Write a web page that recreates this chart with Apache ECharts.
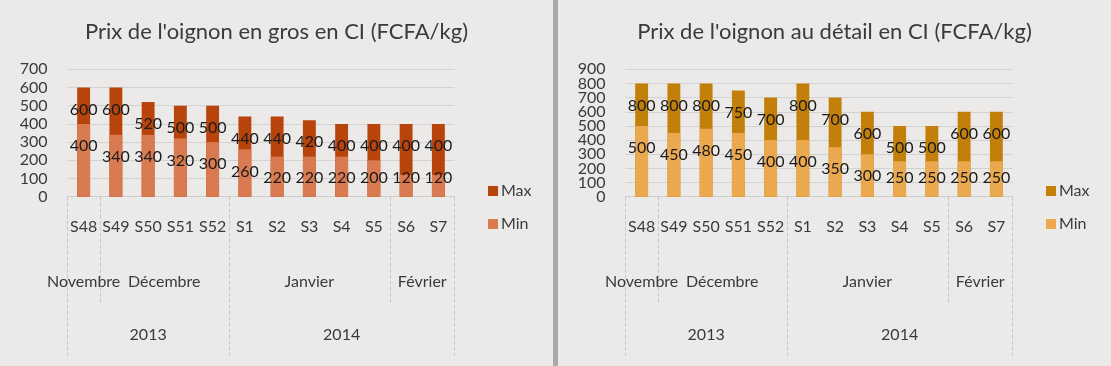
<!DOCTYPE html>
<html><head><meta charset="utf-8">
<script src="https://cdn.jsdelivr.net/npm/echarts@6/dist/echarts.min.js"></script>
<style>
html,body{margin:0;padding:0;background:#ebeae8;}
#wrap{display:flex;width:1111px;height:366px;}
.panel{width:553px;height:366px;}
.sep{width:5px;height:366px;background:#aaa9a7;}
</style></head><body>
<div id="wrap"><div id="c1" class="panel"></div><div class="sep"></div><div id="c2" class="panel"></div></div>
<script>
const weeks = ['S48','S49','S50','S51','S52','S1','S2','S3','S4','S5','S6','S7'];
const monthNames = ['Novembre','Décembre','Janvier','Février'];
const monthSpans = [1,4,5,2];
const yearNames = ['2013','2014'];
const yearSpans = [5,7];
const grosMax = [600,600,520,500,500,440,440,420,400,400,400,400];
const grosMin = [400,340,340,320,300,260,220,220,220,200,120,120];
const detailMax = [800,800,800,750,700,800,700,600,500,500,600,600];
const detailMin = [500,450,480,450,400,400,350,300,250,250,250,250];
const grosTicks = [0,100,200,300,400,500,600,700];
const detailTicks = [0,100,200,300,400,500,600,700,800,900];

const FONT = 'Lato';
const TXT = '#3a3a3a';

function groups(names, spans){
  let s = 0;
  return names.map((n,i)=>{ const g={name:n,start:s-0.5,end:s+spans[i]-0.5,center:s+(spans[i]-1)/2}; s+=spans[i]; return g; });
}
const monthGroups = groups(monthNames, monthSpans);
const yearGroups = groups(yearNames, yearSpans);
const yearBounds = [yearGroups[0].start].concat(yearGroups.map(g=>g.end));
const monthBounds = monthGroups.slice(0,-1).map(g=>g.end).filter(b=>yearBounds.indexOf(b)<0);

function labelFor(gs){ return v => { const g = gs.find(g=>Math.abs(g.center-v)<1e-6); return g?g.name:''; }; }

function layoutLabel(p){
  const r = p.rect;
  return {x: r.x + r.width/2, y: Math.min(r.y + 22, r.y + r.height - 19), align:'center', verticalAlign:'middle'};
}

function build(id, title, maxArr, minArr, ticks, cMax, cMin){
  const chart = echarts.init(document.getElementById(id), null, {renderer:'canvas'});
  const n = weeks.length;
  const yMin = ticks[0], yMax = ticks[ticks.length-1], yInt = ticks[1]-ticks[0];
  const labelStyle = {show:true, fontSize:16, color:'#1a1a1a', fontFamily:FONT};
  const yLab = {fontSize:16, color:TXT, margin:20, fontFamily:FONT};
  chart.setOption({
    animation:false,
    backgroundColor:'#ebeae8',
    textStyle:{fontFamily:FONT},
    title:{text:title, left:'center', top:16, textStyle:{fontSize:22, fontWeight:'normal', color:TXT, fontFamily:FONT}},
    legend:{data:['Max','Min'], orient:'vertical', left:488, top:183, padding:0, itemWidth:10, itemHeight:10, itemGap:17, icon:'rect',
      textStyle:{fontSize:16, color:TXT, fontFamily:FONT, padding:[0,0,0,-2]}},
    grid:{left:67.5, right:98.5, top:69.3, bottom:169.3, containLabel:false},
    yAxis:[
      {type:'value', position:'left', min:yMin, max:yMax, interval:yInt,
        axisLine:{show:false}, axisTick:{show:false},
        axisLabel:Object.assign({showMinLabel:false, showMaxLabel:false}, yLab),
        splitLine:{lineStyle:{color:'#d2d2d2', width:1}}},
      {type:'value', position:'left', offset:0, min:yMin, max:yMax, interval:yInt,
        axisLine:{show:false}, axisTick:{show:false}, splitLine:{show:false},
        axisLabel:Object.assign({customValues:[yMin, yMax]}, yLab)}
    ],
    xAxis:[
      {type:'category', data:weeks, position:'bottom',
        axisLine:{lineStyle:{color:'#cdcdcd'}}, axisTick:{show:false},
        axisLabel:{fontSize:16, color:TXT, margin:22, fontFamily:FONT, interval:0}},
      {type:'value', min:-0.5, max:n-0.5, position:'bottom', axisLine:{show:false}, splitLine:{show:false},
        axisTick:{show:true, customValues:monthBounds, length:106, lineStyle:{color:'#c8c8c8', type:'dashed'}},
        axisLabel:{customValues:monthGroups.map(g=>g.center), formatter:labelFor(monthGroups), fontSize:16, color:TXT, margin:77, fontFamily:FONT}},
      {type:'value', min:-0.5, max:n-0.5, position:'bottom', axisLine:{show:false}, splitLine:{show:false},
        axisTick:{show:true, customValues:yearBounds, length:159, lineStyle:{color:'#c8c8c8', type:'dashed'}},
        axisLabel:{customValues:yearGroups.map(g=>g.center), formatter:labelFor(yearGroups), fontSize:16, color:TXT, margin:130, fontFamily:FONT}}
    ],
    series:[
      {name:'Max', type:'bar', xAxisIndex:0, yAxisIndex:0, data:maxArr, barWidth:'40%', barGap:'-100%',
        itemStyle:{color:cMax}, label:labelStyle, labelLayout:layoutLabel},
      {name:'Min', type:'bar', xAxisIndex:0, yAxisIndex:0, data:minArr, barWidth:'40%', barGap:'-100%',
        itemStyle:{color:cMin}, label:labelStyle, labelLayout:layoutLabel}
    ]
  });
}
build('c1', "Prix de l'oignon en gros en CI (FCFA/kg)", grosMax, grosMin, grosTicks, '#b8440c', '#d97a50');
build('c2', "Prix de l'oignon au détail en CI (FCFA/kg)", detailMax, detailMin, detailTicks, '#c2800a', '#eba94f');
</script></body></html>
